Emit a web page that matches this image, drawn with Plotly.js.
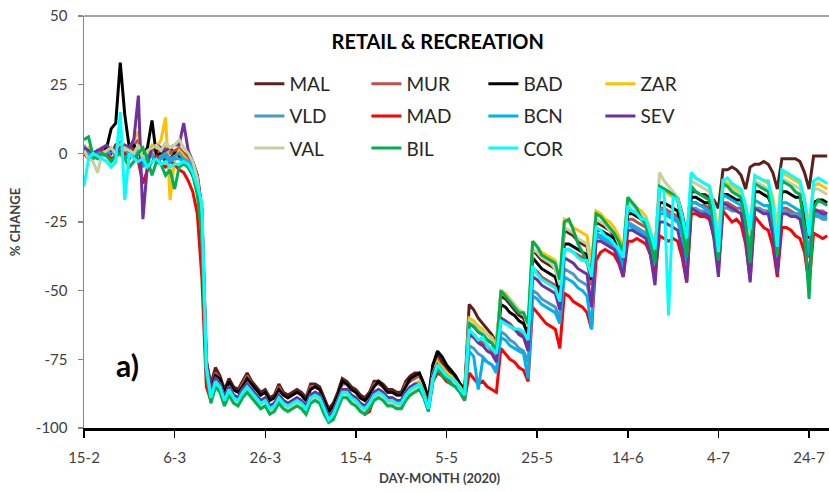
<!DOCTYPE html>
<html>
<head>
<meta charset="utf-8">
<script src="https://cdn.plot.ly/plotly-3.0.1.min.js"></script>
<style>html,body{margin:0;padding:0;background:#fff;}#chart{width:829px;height:492px;}</style>
</head>
<body>
<div id="chart"></div>
<script>
// Day index 0 = 15 Feb 2020 (daily values)
const tickDays = [0, 20, 40, 60, 80, 100, 120, 140, 160];
const tickLabels = ['15-2', '6-3', '26-3', '15-4', '5-5', '25-5', '14-6', '4-7', '24-7'];
const yTicks = [-100, -75, -50, -25, 0, 25, 50];
const yTickLabels = ['-100', '-75', '-50', '-25', '0', '25', '50'];

const cityNames = ['MAL', 'MUR', 'BAD', 'ZAR', 'VLD', 'MAD', 'BCN', 'SEV', 'VAL', 'BIL', 'COR'];
const cityColors = ['#5c1f1c', '#c0504d', '#000000', '#ffc000', '#4a98c4', '#ff0000', '#00b0f0', '#7030a0', '#c4d09e', '#00b050', '#00ffff'];

const MAL = [1,0,-2,0,1,2,0,3,2,1,0,2,1,-2,0,2,1,0,1,2,0,1,0,-1,
  -3,-8,-20,-76,
  -84,-78,-81,-86,-82,-85,-86,-83,-80,-83,-85,-87,-86,-89,-88,-84,-87,-88,-87,-86,-87,-89,-84,-84,-85,-89,-93,-91,-87,-82,-83,-85,-86,-88,-89,-87,-83,-83,-84,-86,-86,-87,-87,-83,-81,-80,-80,-84,-89,-77,-73,
  -76,-78,-80,-82,-84,-87, -55,-57,-60,-62,-64,-66,-69, -52,-53,-55,-57,-59,-60,-64, -35,-37,-39,-40,-41,-42,-48,
  -28,-29,-30,-32,-33,-34,-43, -25,-26,-27,-28,-30,-34,-39, -20,-21,-22,-23,-24,-29,-36, -12,-13,-14,-15,-16,-22,-30,
  -14,-14,-15,-15,-16,-17,-20, -6,-6,-5,-6,-8,-13,-5, -4,-4,-3,-4,-7,-13, -2,-2,-2,-2,-3,-7,-13, -1,-1,-1,-1];

const MUR = [2,-1,0,1,0,3,1,2,4,0,1,3,5,-3,-1,2,0,1,2,0,1,2,0,-2,
  -4,-9,-22,-78,
  -86,-80,-82,-87,-83,-86,-87,-84,-81,-84,-86,-88,-87,-90,-89,-85,-88,-89,-88,-87,-88,-90,-85,-85,-86,-90,-94,-92,-88,-84,-84,-86,-87,-89,-90,-88,-84,-84,-85,-87,-87,-88,-88,-84,-83,-82,-81,-85,-90,-79,-75,
  -78,-80,-82,-84,-86,-88, -65,-66,-68,-69,-70,-72,-75, -60,-61,-62,-64,-65,-66,-70, -42,-43,-45,-46,-47,-48,-53,
  -35,-35,-36,-37,-38,-39,-48, -30,-30,-31,-32,-33,-37,-42, -24,-24,-25,-26,-27,-32,-40, -20,-20,-21,-22,-23,-29,-40,
  -18,-18,-19,-19,-20,-26,-38, -18,-18,-19,-20,-20,-26,-36, -20,-20,-21,-21,-26,-35, -20,-20,-21,-22,-22,-28,-38, -20,-21,-21,-22];

const BAD = [1,0,-1,0,0,2,9,11,33,14,2,3,1,-1,2,12,-1,0,-3,-2,0,-1,-3,-5,
  -8,-12,-28,-78,
  -86,-81,-82,-87,-83,-86,-87,-85,-82,-84,-86,-88,-87,-90,-89,-86,-88,-89,-88,-87,-88,-90,-86,-85,-86,-90,-94,-92,-88,-83,-84,-86,-87,-89,-90,-88,-85,-83,-85,-87,-87,-88,-88,-85,-82,-81,-80,-84,-90,-77,-72,
  -74,-77,-79,-81,-84,-86, -62,-63,-65,-66,-68,-69,-72, -55,-56,-58,-59,-61,-62,-66, -38,-40,-42,-43,-44,-45,-51,
  -33,-33,-34,-35,-36,-37,-46, -28,-28,-29,-30,-31,-35,-40, -22,-22,-23,-24,-25,-30,-38, -18,-18,-19,-20,-21,-27,-38,
  -16,-16,-17,-18,-18,-24,-34, -15,-15,-16,-17,-17,-22,-30, -14,-14,-15,-16,-20,-29, -14,-14,-15,-16,-16,-22,-31, -18,-17,-17,-18];

const ZAR = [0,2,-1,0,1,0,2,0,3,1,2,5,8,-3,0,3,2,5,13,-17,-2,1,-1,-3,
  -6,-12,-30,-80,
  -88,-82,-84,-89,-85,-88,-89,-86,-84,-86,-88,-90,-89,-92,-91,-88,-90,-91,-90,-89,-90,-92,-88,-87,-88,-92,-96,-94,-90,-86,-86,-88,-89,-91,-92,-90,-87,-86,-87,-89,-89,-90,-90,-87,-85,-84,-83,-87,-92,-80,-76,
  -78,-80,-81,-83,-85,-88, -60,-61,-63,-64,-66,-67,-70, -50,-51,-53,-55,-57,-58,-63, -32,-34,-36,-37,-38,-39,-47,
  -24,-25,-27,-28,-29,-30,-40, -21,-22,-24,-25,-27,-30,-35, -17,-18,-20,-21,-23,-28,-36, -12,-13,-15,-16,-17,-24,-35,
  -8,-9,-10,-11,-12,-19,-30, -10,-11,-12,-13,-14,-19,-28, -9,-9,-10,-11,-16,-27, -7,-8,-9,-10,-11,-17,-26, -12,-11,-12,-13];

const VLD = [3,0,-2,1,0,-1,1,2,0,-1,1,0,2,-4,-1,0,-2,-1,0,-2,-1,0,-2,-3,
  -4,-10,-25,-80,
  -88,-83,-84,-89,-85,-88,-89,-86,-84,-86,-88,-90,-89,-92,-91,-88,-90,-91,-90,-89,-90,-92,-88,-87,-88,-92,-96,-94,-90,-86,-87,-88,-89,-91,-92,-90,-87,-86,-87,-89,-89,-90,-90,-87,-85,-85,-84,-88,-92,-81,-78,
  -80,-82,-83,-85,-87,-89, -70,-71,-73,-74,-76,-77,-79, -65,-66,-68,-69,-71,-72,-76, -50,-51,-53,-54,-55,-56,-60,
  -42,-43,-44,-46,-47,-48,-55, -30,-31,-32,-33,-34,-37,-42, -25,-26,-27,-28,-29,-33,-40, -20,-21,-22,-23,-24,-29,-38,
  -20,-20,-21,-21,-22,-27,-35, -20,-20,-21,-21,-22,-26,-33, -20,-20,-21,-22,-26,-32, -21,-21,-22,-22,-23,-28,-35, -23,-23,-24,-24];

const MAD = [0,-2,0,-1,1,0,-2,-1,2,0,-2,1,-3,-11,-6,-3,-1,-4,-5,-3,-4,-6,-7,-10,
  -14,-22,-45,-85,
  -90,-85,-86,-91,-87,-90,-91,-88,-86,-88,-90,-92,-91,-94,-93,-90,-92,-93,-92,-91,-92,-94,-90,-89,-90,-94,-97,-96,-92,-88,-88,-90,-91,-93,-95,-94,-89,-88,-89,-91,-91,-92,-92,-89,-87,-86,-85,-89,-93,-83,-80,
  -81,-83,-84,-85,-87,-90, -80,-82,-84,-83,-85,-86,-87, -71,-73,-75,-76,-78,-79,-83, -56,-58,-60,-62,-63,-64,-71,
  -51,-52,-54,-55,-56,-58,-64, -39,-36,-35,-36,-37,-40,-45, -32,-32,-31,-32,-33,-37,-44, -30,-31,-32,-31,-32,-38,-47,
  -22,-22,-23,-23,-24,-30,-42, -21,-23,-25,-24,-26,-33,-46, -23,-25,-27,-28,-34,-45, -27,-27,-28,-30,-31,-36,-48, -29,-30,-31,-30];

const BCN = [2,-1,0,1,-1,0,1,-1,1,-2,0,-1,1,-5,-2,-1,-3,-2,-1,-3,-2,-2,-3,-4,
  -5,-12,-28,-80,
  -89,-84,-85,-90,-86,-89,-90,-87,-85,-87,-89,-91,-90,-93,-92,-89,-91,-92,-91,-90,-91,-93,-89,-88,-89,-93,-96,-95,-91,-87,-87,-89,-90,-92,-94,-91,-88,-87,-88,-90,-90,-91,-91,-88,-86,-85,-85,-88,-92,-82,-78,
  -80,-82,-84,-85,-87,-89, -72,-74,-86,-75,-76,-77,-80, -67,-68,-70,-71,-72,-73,-82, -52,-53,-55,-56,-57,-58,-62,
  -45,-46,-47,-49,-50,-52,-64, -29,-30,-31,-32,-33,-37,-42, -26,-27,-28,-29,-30,-34,-41, -22,-22,-23,-24,-25,-30,-40,
  -18,-18,-19,-20,-21,-27,-38, -15,-16,-17,-18,-19,-25,-35, -17,-18,-19,-19,-24,-33, -18,-18,-19,-20,-21,-27,-37, -22,-22,-23,-23];

const SEV = [2,1,0,1,2,3,1,2,0,3,2,5,21,-24,-4,2,3,2,1,2,3,3,11,1,
  -3,-8,-20,-75,
  -86,-82,-84,-89,-85,-88,-89,-86,-84,-86,-88,-90,-89,-92,-91,-88,-90,-91,-90,-89,-90,-92,-88,-87,-88,-92,-96,-94,-90,-86,-86,-88,-89,-91,-92,-90,-87,-86,-87,-89,-89,-90,-90,-87,-85,-84,-84,-88,-92,-80,-77,
  -79,-81,-83,-84,-86,-88, -66,-67,-69,-70,-72,-73,-76, -60,-61,-63,-64,-66,-67,-72, -45,-46,-48,-49,-50,-51,-57,
  -38,-39,-40,-42,-43,-44,-56, -32,-32,-33,-34,-35,-39,-45, -28,-28,-29,-30,-31,-37,-48, -25,-25,-26,-27,-28,-35,-47,
  -20,-21,-22,-22,-23,-31,-45, -18,-19,-20,-21,-22,-31,-47, -20,-21,-22,-22,-30,-44, -22,-22,-23,-23,-24,-32,-47, -21,-21,-22,-22];

const VAL = [1,-2,-3,-7,0,1,2,0,-1,2,1,0,3,-2,1,2,3,1,4,2,3,5,2,0,
  -3,-9,-22,-78,
  -89,-84,-86,-91,-87,-90,-91,-88,-86,-88,-90,-92,-91,-94,-93,-90,-92,-93,-92,-91,-92,-94,-90,-89,-90,-94,-97,-96,-92,-88,-88,-90,-91,-93,-94,-92,-89,-88,-89,-91,-91,-92,-92,-89,-87,-86,-85,-89,-93,-82,-78,
  -79,-81,-82,-84,-86,-89, -61,-62,-64,-65,-66,-68,-71, -50,-52,-53,-55,-57,-58,-63, -35,-36,-38,-39,-40,-42,-48,
  -27,-28,-29,-31,-32,-33,-42, -24,-25,-26,-28,-29,-33,-38, -18,-19,-21,-22,-24,-29,-37, -7,-10,-12,-14,-16,-23,-36,
  -10,-11,-12,-13,-14,-20,-30, -12,-12,-13,-14,-15,-21,-30, -10,-11,-12,-13,-19,-28, -9,-10,-11,-12,-13,-18,-28, -13,-13,-14,-15];

const BIL = [5,6,-1,-2,0,-1,-3,-1,0,-2,-5,-3,0,2,-2,-8,-3,-4,-8,-6,-13,-5,-4,-5,
  -8,-15,-30,-80,
  -91,-85,-87,-92,-88,-91,-92,-89,-87,-89,-91,-93,-92,-95,-94,-91,-93,-94,-93,-92,-93,-95,-91,-90,-91,-95,-98,-97,-93,-89,-89,-91,-92,-94,-95,-93,-90,-89,-90,-92,-92,-93,-93,-90,-88,-87,-86,-89,-94,-83,-78,
  -81,-82,-84,-85,-87,-90, -62,-63,-65,-66,-68,-69,-72, -50,-52,-54,-56,-58,-58,-62, -32,-34,-37,-38,-39,-40,-46,
  -25,-24,-28,-33,-36,-40,-42, -22,-23,-25,-27,-29,-32,-36, -16,-18,-20,-24,-26,-32,-40, -12,-13,-14,-15,-17,-26,-38,
  -12,-14,-15,-16,-17,-25,-39, -11,-12,-14,-15,-16,-25,-40, -11,-12,-13,-14,-23,-37, -10,-11,-12,-14,-15,-28,-53, -20,-17,-18,-19];

const COR = [-12,-2,0,-1,-2,-3,-5,-3,15,-17,0,-2,-3,-2,-5,-3,-2,-4,-3,-5,-4,-4,-3,-4,
  -7,-12,-18,-78,
  -89,-83,-85,-90,-86,-89,-90,-87,-85,-87,-89,-91,-90,-93,-92,-89,-91,-92,-91,-90,-91,-93,-89,-88,-89,-93,-97,-95,-91,-87,-87,-89,-90,-92,-93,-91,-88,-87,-88,-90,-90,-91,-91,-88,-86,-85,-84,-88,-93,-82,-77,
  -79,-81,-82,-83,-86,-88, -64,-66,-68,-67,-70,-71,-73, -61,-62,-63,-64,-64,-65,-68, -41,-44,-46,-47,-48,-49,-54,
  -35,-35,-36,-38,-39,-39,-45, -27,-28,-30,-31,-33,-35,-38, -19,-21,-22,-24,-24,-29,-35, -13,-14,-59,-16,-17,-23,-31,
  -7,-9,-10,-11,-12,-20,-36, -10,-9,-11,-12,-13,-19,-28, -8,-9,-10,-10,-19,-34, -6,-7,-8,-9,-10,-17,-30, -10,-9,-10,-11];

const seriesValues = [MAL, MUR, BAD, ZAR, VLD, MAD, BCN, SEV, VAL, BIL, COR];
const legendGroups = ['legend', 'legend', 'legend', 'legend', 'legend2', 'legend2', 'legend2', 'legend2', 'legend3', 'legend3', 'legend3'];

const traces = seriesValues.map((vals, i) => ({
  type: 'scatter',
  mode: 'lines',
  name: cityNames[i],
  x: vals.map((_, d) => d),
  y: vals,
  line: {color: cityColors[i], width: 3},
  legend: legendGroups[i]
}));

const FONT = 'Lato, "Open Sans", sans-serif';
const legendBase = {
  orientation: 'h', xanchor: 'left', yanchor: 'middle', x: 0.222,
  entrywidth: 72, entrywidthmode: 'pixels', itemwidth: 30,
  font: {family: FONT, size: 19, color: '#262626'},
  bgcolor: 'rgba(0,0,0,0)', borderwidth: 0
};

const layout = {
  width: 829, height: 492,
  margin: {l: 84, r: 0, t: 16, b: 64},
  paper_bgcolor: '#ffffff', plot_bgcolor: '#ffffff',
  font: {family: FONT, color: '#404040'},
  showlegend: true,
  title: {
    text: '<b>RETAIL & RECREATION</b>',
    x: 0.528, xanchor: 'center', y: 0.915, yanchor: 'middle',
    font: {family: FONT, size: 20, color: '#000000'}
  },
  xaxis: {
    range: [0, 164.4],
    tickmode: 'array', tickvals: tickDays, ticktext: tickLabels,
    ticks: 'outside', ticklen: 7, tickwidth: 1.5, tickcolor: '#000000',
    showline: true, linecolor: '#000000', linewidth: 2.5,
    showgrid: false, zeroline: false,
    tickfont: {size: 15, color: '#404040'},
    ticklabelstandoff: 7
  },
  yaxis: {
    range: [-100, 50],
    tickmode: 'array', tickvals: yTicks, ticktext: yTickLabels,
    ticks: 'outside', ticklen: 5, tickwidth: 1.2, tickcolor: '#868686',
    showline: true, linecolor: '#868686', linewidth: 1.5,
    showgrid: false, zeroline: false,
    tickfont: {size: 15, color: '#404040'},
    ticklabelstandoff: 7,
    title: {text: '<b>% CHANGE</b>', font: {size: 13, color: '#404040'}, standoff: 12}
  },
  shapes: [{type: 'line', xref: 'paper', yref: 'paper', x0: 0, x1: 1, y0: 1, y1: 1, line: {color: '#868686', width: 1.5}}],
  legend: Object.assign({}, legendBase, {y: 0.835}),
  legend2: Object.assign({}, legendBase, {y: 0.757}),
  legend3: Object.assign({}, legendBase, {y: 0.679}),
  annotations: [
    {
      text: '<b>a)</b>', xref: 'paper', yref: 'paper', x: 0.059, y: 0.153,
      xanchor: 'center', yanchor: 'middle', showarrow: false,
      font: {size: 30, color: '#000000'}
    },
    {
      text: '<b>DAY-MONTH (2020)</b>', xref: 'paper', yref: 'paper', x: 0.478, y: -0.121,
      xanchor: 'center', yanchor: 'middle', showarrow: false,
      font: {size: 13, color: '#404040'}
    }
  ]
};

Plotly.newPlot('chart', traces, layout, {displayModeBar: false, staticPlot: true});
</script>
</body>
</html>
